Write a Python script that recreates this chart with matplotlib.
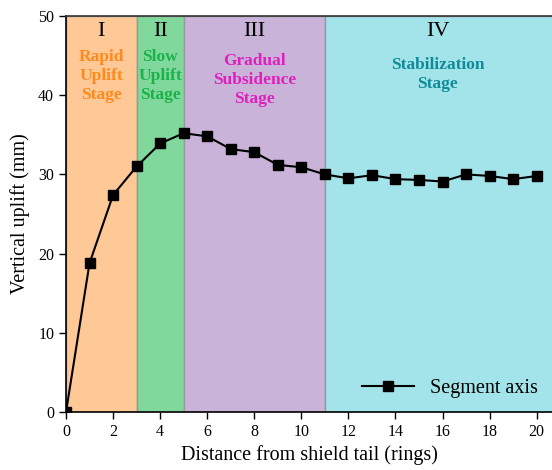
import numpy as np
import matplotlib
matplotlib.use('Agg')
import matplotlib.pyplot as plt

plt.rcParams['font.family'] = ['Liberation Serif', 'DejaVu Serif']
plt.rcParams['mathtext.fontset'] = 'stix'

# Dados
rings = [0, 1, 2, 3, 4, 5, 6, 7, 8, 9, 10, 11, 12, 13, 14, 15, 16, 17, 18, 19, 20]
uplift = [0.0, 18.8, 27.4, 31.0, 33.9, 35.2, 34.8, 33.2, 32.8, 31.2, 30.9,
          30.0, 29.5, 29.9, 29.4, 29.3, 29.1, 30.0, 29.8, 29.4, 29.8]

stage_bounds = [(0, 3), (3, 5), (5, 11), (11, 21)]
stage_numerals = ['I', 'II', 'III', 'IV']
stage_names = ['Rapid\nUplift\nStage', 'Slow\nUplift\nStage',
               'Gradual\nSubsidence\nStage', 'Stabilization\nStage']
stage_fill = ['#fec897', '#80d89c', '#c9b3d8', '#a3e3ea']
stage_text = ['#ff8a1c', '#1bb24a', '#e01fbf', '#0f8c98']
stage_text_y = [42.4, 42.4, 41.9, 42.6]

fig = plt.figure(figsize=(5.52, 4.70), dpi=100)
ax = fig.add_axes([0.1196, 0.1234, 0.8804, 0.8426])

for (a, b), fc in zip(stage_bounds, stage_fill):
    ax.axvspan(a, b, facecolor=fc, edgecolor='#999999', linewidth=1.0, zorder=0)

for (a, b), num, name, tc, ty in zip(stage_bounds, stage_numerals, stage_names,
                                     stage_text, stage_text_y):
    xc = (a + b) / 2 if b <= 11 else 15.8
    ax.text(xc, 48.0, num, ha='center', va='center', fontsize=16, color='black')
    ax.text(xc, ty, name, ha='center', va='center', fontsize=12.5,
            fontweight='bold', color=tc, linespacing=1.25)

ax.plot(rings, uplift, color='black', marker='s', markersize=6.5,
        linewidth=1.5, label='Segment axis', zorder=3)

ax.set_xlim(0, 20.65)
ax.set_ylim(0, 50)
ax.set_xticks(np.arange(0, 21, 2))
ax.set_yticks(np.arange(0, 51, 10))
ax.tick_params(direction='out', labelsize=11.5, length=5, width=1)
ax.spines['right'].set_visible(False)
ax.spines['top'].set_color('#333333')
ax.spines['top'].set_linewidth(1.2)
ax.spines['left'].set_linewidth(1.2)
ax.spines['bottom'].set_linewidth(1.2)

ax.set_xlabel('Distance from shield tail (rings)', fontsize=14.5, labelpad=4)
ax.set_ylabel('Vertical uplift (mm)', fontsize=14.5, labelpad=6)

ax.legend(loc='lower right', frameon=False, fontsize=14.5, handlelength=2.6,
          borderaxespad=0.3)

fig.savefig('out.png', dpi=100)
